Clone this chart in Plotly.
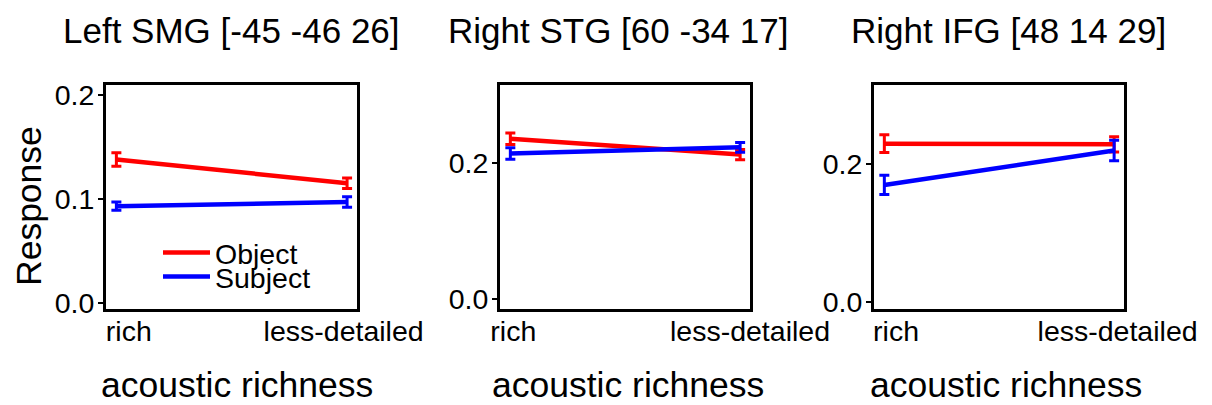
import plotly.graph_objects as go

W, H = 1212, 405

categories = ["rich", "less-detailed"]
panel_titles = ["Left SMG [-45 -46 26]", "Right STG [60 -34 17]", "Right IFG [48 14 29]"]

object_vals = [[0.138, 0.115], [0.235, 0.212], [0.230, 0.229]]
object_err = [[0.0065, 0.005], [0.0085, 0.0075], [0.013, 0.011]]
subject_vals = [[0.093, 0.097], [0.2135, 0.2225], [0.170, 0.220]]
subject_err = [[0.004, 0.005], [0.0085, 0.007], [0.014, 0.015]]

y_ranges = [[-0.006, 0.2096], [-0.0142, 0.3138], [-0.0106, 0.3154]]
y_ticks = [[0.0, 0.1, 0.2], [0.0, 0.2], [0.0, 0.2]]

# layout geometry (pixels / label placement)
box_x = [(106, 357), (500, 750), (874, 1124)]
box_top, box_bot = 85, 309
title_cx = [231, 618, 1008]
xtitle_cx = [237, 628, 1006]
label_pos = [[0.054, 0.985], [0.013, 1.043], [0.051, 1.015]]

RED = "#FF0000"
BLUE = "#0000FF"
FONT = "Liberation Sans, Arial, sans-serif"

def px2x(px):
    return px / W

def px2y(py):
    return 1 - py / H

fig = go.Figure()
xpos = [0, 1]

for i in range(3):
    ax = "" if i == 0 else str(i + 1)
    for name, vals, errs, col, leg in [
        ("Object", object_vals[i], object_err[i], RED, "legend"),
        ("Subject", subject_vals[i], subject_err[i], BLUE, "legend2"),
    ]:
        fig.add_trace(go.Scatter(
            x=xpos, y=vals, mode="lines", name=name,
            line=dict(color=col, width=4.5),
            error_y=dict(type="data", array=errs, visible=True, color=col,
                         thickness=3, width=5),
            xaxis="x" + ax, yaxis="y" + ax,
            showlegend=(i == 0), legend=leg,
        ))
    axis_common = dict(showline=True, mirror=True, linecolor="black", linewidth=3,
                       showgrid=False, zeroline=False, automargin=False,
                       tickfont=dict(family=FONT, size=28.5, color="black"))
    fig.layout["xaxis" + ax] = dict(
        domain=[px2x(box_x[i][0]), px2x(box_x[i][1])],
        anchor="y" + ax, range=[-0.045, 1.043],
        tickvals=label_pos[i], ticktext=categories, ticks="", ticklen=0,
        ticklabelstandoff=-5,
        **axis_common)
    fig.layout["yaxis" + ax] = dict(
        domain=[px2y(box_bot), px2y(box_top)],
        anchor="x" + ax, range=y_ranges[i],
        tickvals=y_ticks[i], tickformat=".1f",
        ticks="outside", ticklen=5, tickwidth=2, tickcolor="black",
        ticklabelstandoff=-2,
        **axis_common)

annotations = []
for i in range(3):
    annotations.append(dict(
        text=panel_titles[i], x=px2x(title_cx[i]), y=px2y(30),
        xref="paper", yref="paper", xanchor="center", yanchor="middle",
        showarrow=False, font=dict(family=FONT, size=35, color="black")))
    annotations.append(dict(
        text="acoustic richness", x=px2x(xtitle_cx[i]), y=px2y(385),
        xref="paper", yref="paper", xanchor="center", yanchor="middle",
        showarrow=False, font=dict(family=FONT, size=35.5, color="black")))
annotations.append(dict(
    text="Response", x=px2x(29), y=px2y(206), textangle=-90,
    xref="paper", yref="paper", xanchor="center", yanchor="middle",
    showarrow=False, font=dict(family=FONT, size=35.5, color="black")))

leg_common = dict(bgcolor="rgba(0,0,0,0)", borderwidth=0, itemwidth=47,
                  font=dict(family=FONT, size=28.5, color="black"),
                  xanchor="left", yanchor="middle", tracegroupgap=0)

fig.update_layout(
    width=W, height=H, autosize=False,
    margin=dict(l=0, r=0, t=0, b=0, pad=0, autoexpand=False),
    paper_bgcolor="white", plot_bgcolor="white",
    annotations=annotations,
    legend=dict(x=px2x(158), y=px2y(253), **leg_common),
    legend2=dict(x=px2x(158), y=px2y(277), **leg_common),
)

fig.write_html("out.html", config={"displayModeBar": False},
               post_script="document.body.style.margin='0';document.body.style.overflow='hidden';")
